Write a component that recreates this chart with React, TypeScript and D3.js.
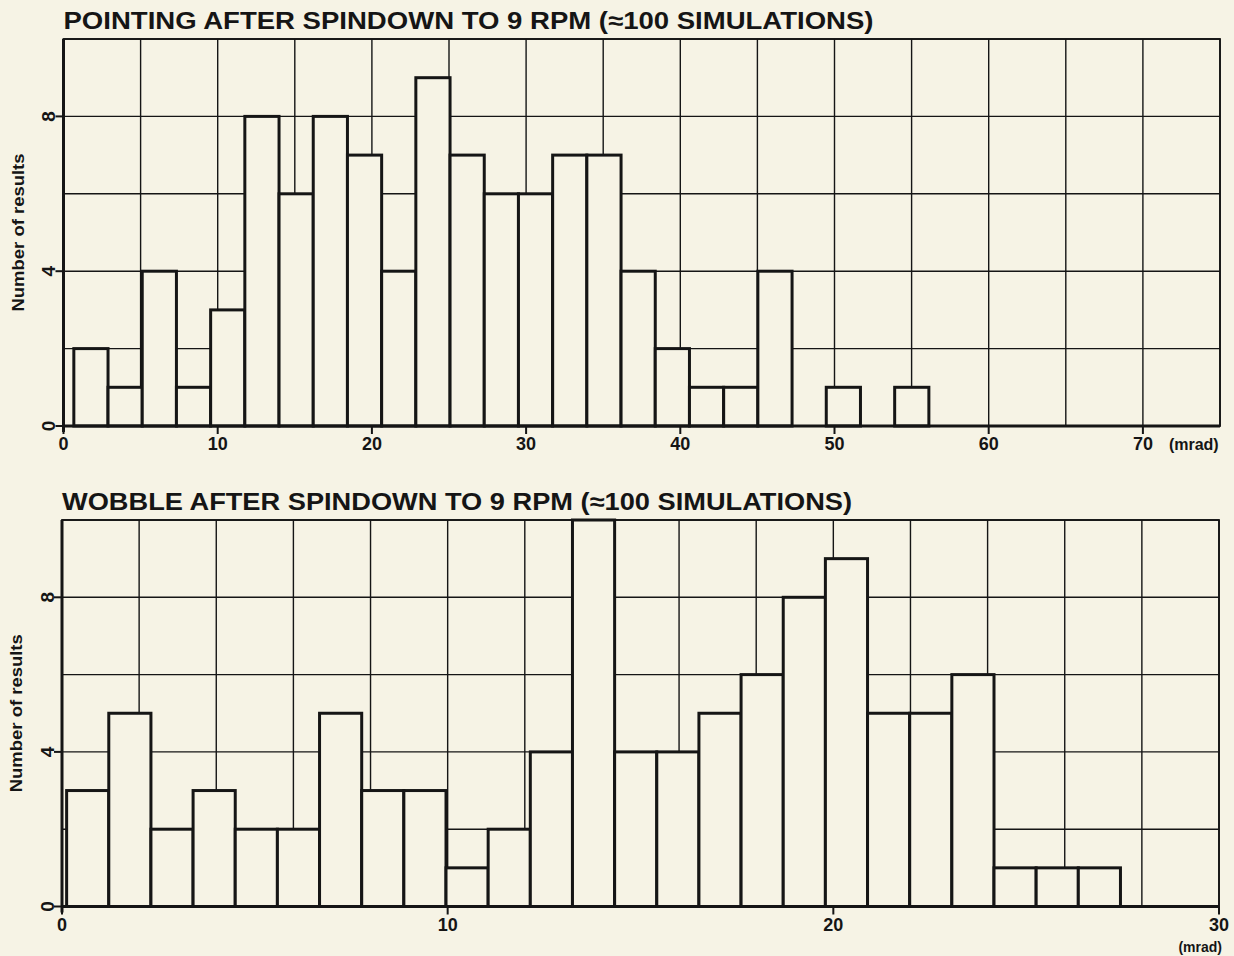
import React from 'react';
import * as d3 from 'd3';

// counts per bin
const pointingCounts = [2, 1, 4, 1, 3, 8, 6, 8, 7, 4, 9, 7, 6, 6, 7, 7, 4, 2, 1, 1, 4, 0, 1, 0, 1];
const pointingBinStart = 0.67;
const pointingBinWidth = 2.218;
const pointingTicks = [0, 10, 20, 30, 40, 50, 60, 70];

const wobbleCounts = [3, 5, 2, 3, 2, 2, 5, 3, 3, 1, 2, 4, 10, 4, 4, 5, 6, 8, 9, 5, 5, 6, 1, 1, 1];
const wobbleBinStart = 0.12;
const wobbleBinWidth = 1.093;
const wobbleTicks = [0, 10, 20, 30];

const yTicks = [0, 4, 8];

const PAPER = '#f6f3e5';
const INK = '#151515';
const FONT = '"Liberation Sans", Arial, Helvetica, sans-serif';

type HistProps = {
    title: string;
    titleWidth: number;
    counts: number[];
    binStart: number;
    binWidth: number;
    xMax: number;
    xGridStep: number;
    xTicks: number[];
    left: number;
    right: number;
    top: number;
    bottom: number;
    unitInline: boolean;
};

const Histogram = ({ title, titleWidth, counts, binStart, binWidth, xMax, xGridStep, xTicks, left, right, top, bottom, unitInline }: HistProps) => {
    const x = d3.scaleLinear().domain([0, xMax]).range([left, right]);
    const y = d3.scaleLinear().domain([0, 10]).range([bottom, top]);

    const xGrid = d3.range(0, xMax + 0.001, xGridStep);
    const yGrid = d3.range(0, 10.001, 2);

    const bins = counts.map((c, i) => ({ x0: binStart + i * binWidth, x1: binStart + (i + 1) * binWidth, c }));

    const lastTick = xTicks[xTicks.length - 1];

    return (
        <g>
            <text x={left} y={top - 10} fontFamily={FONT} fontWeight="bold" fontSize={24} fill={INK}
                textLength={titleWidth} lengthAdjust="spacingAndGlyphs">{title}</text>

            {/* grid */}
            {xGrid.map(v => (
                <line key={'gx' + v} x1={x(v)} x2={x(v)} y1={y(0)} y2={y(10)} stroke={INK} strokeWidth={1.4} />
            ))}
            {yGrid.map(v => (
                <line key={'gy' + v} x1={x(0)} x2={x(xMax)} y1={y(v)} y2={y(v)} stroke={INK} strokeWidth={1.4} />
            ))}
            <rect x={x(0)} y={y(10)} width={x(xMax) - x(0)} height={y(0) - y(10)} fill="none" stroke={INK} strokeWidth={1.8} />

            {/* bars */}
            {bins.filter(b => b.c > 0).map((b, i) => (
                <rect key={'b' + i} x={x(b.x0)} y={y(b.c)} width={x(b.x1) - x(b.x0)} height={y(0) - y(b.c)}
                    fill={PAPER} stroke={INK} strokeWidth={3} />
            ))}

            {/* axes */}
            <line x1={x(0)} x2={x(0)} y1={y(10)} y2={y(0) + 6} stroke={INK} strokeWidth={3} />
            <line x1={x(0)} x2={x(xMax)} y1={y(0)} y2={y(0)} stroke={INK} strokeWidth={3} />

            {yTicks.map(v => (
                <g key={'yt' + v}>
                    <line x1={x(0) - 8} x2={x(0)} y1={y(v)} y2={y(v)} stroke={INK} strokeWidth={2} />
                    <text transform={`translate(${x(0) - 15},${y(v)}) rotate(-90)`} textAnchor="middle" dy="0.36em"
                        fontFamily={FONT} fontWeight="bold" fontSize={19} fill={INK}>{v}</text>
                </g>
            ))}
            <text transform={`translate(${left - 40},${(y(0) + y(10)) / 2}) rotate(-90)`} textAnchor="middle"
                fontFamily={FONT} fontWeight="bold" fontSize={16} fill={INK} textLength={158}
                lengthAdjust="spacingAndGlyphs">Number of results</text>

            {xTicks.map(v => (
                <g key={'xt' + v}>
                    <line x1={x(v)} x2={x(v)} y1={y(0)} y2={y(0) + 8} stroke={INK} strokeWidth={2} />
                    <text x={x(v)} y={y(0) + 24} textAnchor="middle" fontFamily={FONT} fontWeight="bold" fontSize={18} fill={INK}>{v}</text>
                </g>
            ))}
            {unitInline ? (
                <text x={x(lastTick) + 26} y={y(0) + 24} fontFamily={FONT} fontWeight="bold" fontSize={16} fill={INK}>(mrad)</text>
            ) : (
                <text x={x(lastTick) + 3} y={y(0) + 45} textAnchor="end" fontFamily={FONT} fontWeight="bold" fontSize={14} fill={INK}>(mrad)</text>
            )}
        </g>
    );
};

export default function App() {
    return (
        <div style={{ position: 'absolute', left: 0, top: 0 }}>
            <svg width={1234} height={956} style={{ display: 'block' }}>
                <rect width={1234} height={956} fill={PAPER} />
                <Histogram
                    title="POINTING AFTER SPINDOWN TO 9 RPM (≈100 SIMULATIONS)"
                    titleWidth={810}
                    counts={pointingCounts}
                    binStart={pointingBinStart}
                    binWidth={pointingBinWidth}
                    xMax={75}
                    xGridStep={5}
                    xTicks={pointingTicks}
                    left={63.5}
                    right={1220}
                    top={39}
                    bottom={426}
                    unitInline={true}
                />
                <Histogram
                    title="WOBBLE AFTER SPINDOWN TO 9 RPM (≈100 SIMULATIONS)"
                    titleWidth={790}
                    counts={wobbleCounts}
                    binStart={wobbleBinStart}
                    binWidth={wobbleBinWidth}
                    xMax={30}
                    xGridStep={2}
                    xTicks={wobbleTicks}
                    left={62}
                    right={1219}
                    top={520}
                    bottom={906.5}
                    unitInline={false}
                />
            </svg>
        </div>
    );
}
